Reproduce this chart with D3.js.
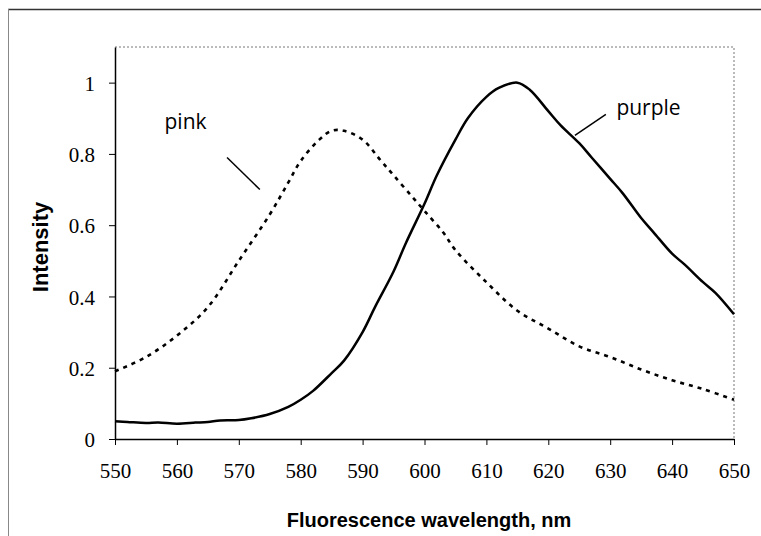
<!DOCTYPE html>
<html>
<head>
<meta charset="utf-8">
<script src="https://cdn.jsdelivr.net/npm/d3@7/dist/d3.min.js"></script>
<style>
  body { margin: 0; background: #fff; }
  svg { display: block; }
</style>
</head>
<body>
<svg id="chart" width="761" height="536"></svg>
<script>
// wavelengths (nm) and intensities
const purpleWl = [550, 552, 555, 557, 560, 563, 565, 567, 570, 572, 575, 578, 580, 582, 585, 587, 590, 592, 595, 597, 600, 602, 605, 607, 610, 612, 615, 617, 620, 622, 625, 627, 630, 632, 635, 637, 640, 642, 645, 647, 650];
const purpleVal = [0.05, 0.048, 0.045, 0.046, 0.043, 0.046, 0.048, 0.052, 0.053, 0.058, 0.07, 0.09, 0.11, 0.135, 0.185, 0.22, 0.30, 0.37, 0.47, 0.55, 0.66, 0.74, 0.84, 0.90, 0.96, 0.985, 1.0, 0.98, 0.92, 0.88, 0.83, 0.79, 0.73, 0.69, 0.62, 0.58, 0.52, 0.49, 0.44, 0.41, 0.35];

const pinkWl = [550, 555, 560, 565, 570, 575, 578, 580, 583, 585, 587, 590, 593, 595, 598, 600, 603, 605, 610, 615, 620, 625, 630, 635, 640, 645, 650];
const pinkVal = [0.19, 0.23, 0.29, 0.37, 0.50, 0.63, 0.72, 0.78, 0.84, 0.865, 0.865, 0.84, 0.78, 0.74, 0.68, 0.64, 0.58, 0.53, 0.44, 0.36, 0.31, 0.26, 0.23, 0.195, 0.165, 0.14, 0.11];

const xTicks = [550, 560, 570, 580, 590, 600, 610, 620, 630, 640, 650];
const yTicks = [0, 0.2, 0.4, 0.6, 0.8, 1];

// label text + leader line ends, in data units (wavelength, intensity)
const labels = [
    { text: "pink", tx: 558, ty: 0.87, from: [568.1, 0.79], to: [573.4, 0.70] },
    { text: "purple", tx: 631, ty: 0.91, from: [629.3, 0.911], to: [624.3, 0.852] }
];

const svg = d3.select('#chart');
const margin = { left: 115, right: 27, top: 47, bottom: 97 };
const width = 761, height = 536;

const x = d3.scaleLinear().domain([550, 650]).range([margin.left, width - margin.right]);
const y = d3.scaleLinear().domain([0, 1.1]).range([height - margin.bottom, margin.top]);

// outer frame (top + left only)
svg.append("line").attr("x1", 8).attr("x2", 761).attr("y1", 9.5).attr("y2", 9.5)
    .attr("stroke", "#333").attr("stroke-width", 1.5);
svg.append("line").attr("x1", 8.5).attr("x2", 8.5).attr("y1", 9).attr("y2", 536)
    .attr("stroke", "#888").attr("stroke-width", 1);

// plot area border, top + right dotted
svg.append("path")
    .attr("d", `M${x(550)},${y(1.1)}H${x(650)}V${y(0)}`)
    .attr("fill", "none").attr("stroke", "#777")
    .attr("stroke-width", 1).attr("stroke-dasharray", "2,2");

const xAxis = svg.append("g")
    .attr("transform", `translate(0,${y(0)})`)
    .call(d3.axisBottom(x).tickValues(xTicks).tickSize(6).tickPadding(18).tickSizeOuter(0));
const yAxis = svg.append("g")
    .attr("transform", `translate(${x(550)},0)`)
    .call(d3.axisLeft(y).tickValues(yTicks).tickSize(6).tickPadding(14).tickSizeOuter(0)
        .tickFormat(d => d === 0 ? "0" : d === 1 ? "1" : d3.format(".1f")(d)));

[xAxis, yAxis].forEach(g => {
    g.select(".domain").attr("stroke", "#000").attr("stroke-width", 1.5);
    g.selectAll(".tick line").attr("stroke", "#000").attr("stroke-width", 1);
    g.selectAll(".tick text")
        .attr("fill", "#000")
        .style("font-family", "'Liberation Serif', 'Times New Roman', serif")
        .style("font-size", "21px");
});
yAxis.selectAll(".tick text").attr("dy", "0.36em");

const line = d3.line().x(d => x(d[0])).y(d => y(d[1]));

svg.append("path")
    .datum(d3.zip(pinkWl, pinkVal))
    .attr("d", line.curve(d3.curveCatmullRom))
    .attr("fill", "none").attr("stroke", "#000")
    .attr("stroke-width", 2.6).attr("stroke-dasharray", "4,5");

svg.append("path")
    .datum(d3.zip(purpleWl, purpleVal))
    .attr("d", line.curve(d3.curveCatmullRom))
    .attr("fill", "none").attr("stroke", "#000")
    .attr("stroke-width", 2.5);

labels.forEach(l => {
    svg.append("line")
        .attr("x1", x(l.from[0])).attr("y1", y(l.from[1]))
        .attr("x2", x(l.to[0])).attr("y2", y(l.to[1]))
        .attr("stroke", "#000").attr("stroke-width", 1.5);
    svg.append("text")
        .attr("x", x(l.tx)).attr("y", y(l.ty))
        .style("font-family", "'Open Sans', 'Noto Sans', sans-serif")
        .style("font-size", "21px")
        .text(l.text);
});

// axis titles
svg.append("text")
    .attr("x", 429).attr("y", 527)
    .attr("text-anchor", "middle")
    .style("font-family", "'Liberation Sans', Arial, sans-serif")
    .style("font-weight", "bold").style("font-size", "20px")
    .text("Fluorescence wavelength, nm");

svg.append("text")
    .attr("transform", `translate(48,${(y(0) + y(1.1)) / 2 + 4}) rotate(-90)`)
    .attr("text-anchor", "middle")
    .style("font-family", "'Liberation Sans', Arial, sans-serif")
    .style("font-weight", "bold").style("font-size", "22px")
    .text("Intensity");
</script>
</body>
</html>
